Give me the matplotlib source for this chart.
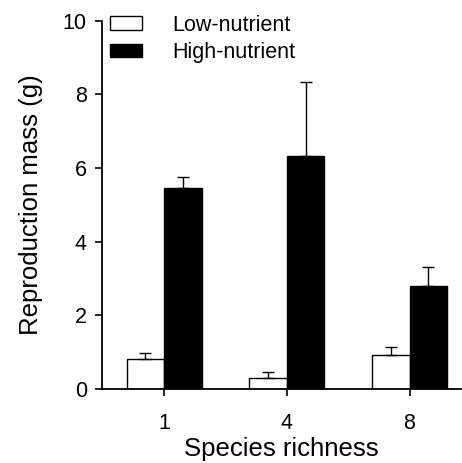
import numpy as np
import matplotlib
matplotlib.use('Agg')
import matplotlib.pyplot as plt

plt.rcParams['font.family'] = ['Liberation Sans', 'DejaVu Sans']

# data
richness = ['1', '4', '8']
low_mean = [0.80, 0.30, 0.93]
low_err = [0.17, 0.15, 0.20]
high_mean = [5.45, 6.33, 2.79]
high_err = [0.30, 2.02, 0.53]

x = np.arange(len(richness))
w = 0.305

fig = plt.figure(figsize=(4.62, 4.63), dpi=100)
ax = fig.add_axes([0.221, 0.160, 0.777, 0.795])

err_kw = dict(ecolor='black', elinewidth=1, capsize=4, capthick=1)
ax.bar(x - w / 2, low_mean, w, color='white', edgecolor='black', linewidth=1,
       yerr=[np.zeros(3), low_err], error_kw=err_kw, label='Low-nutrient')
ax.bar(x + w / 2, high_mean, w, color='black', edgecolor='black', linewidth=1,
       yerr=[np.zeros(3), high_err], error_kw=err_kw, label='High-nutrient')

ax.set_xlim(-0.505, 2.42)
ax.set_ylim(0, 10)
ax.set_xticks(x)
ax.set_xticklabels(richness)
ax.set_yticks([0, 2, 4, 6, 8, 10])
ax.tick_params(labelsize=15.5, length=5, width=1.2, direction='out', pad=6)
ax.tick_params(axis='x', pad=12.5)
ax.spines['top'].set_visible(False)
ax.spines['right'].set_visible(False)
ax.spines['left'].set_linewidth(1.3)
ax.spines['bottom'].set_linewidth(1.3)

# kept a touch higher than the original so the descenders stay inside
ax.set_xlabel('Species richness', fontsize=18.5, labelpad=2)
ax.set_ylabel('Reproduction mass (g)', fontsize=18.5, labelpad=14)

ax.legend(loc='upper left', bbox_to_anchor=(-0.02, 1.057), frameon=False,
          fontsize=15.5, handlelength=1.5, handleheight=0.6,
          handletextpad=1.4, labelspacing=0.28, borderaxespad=0.3)

plt.savefig('out.png', dpi=100)
